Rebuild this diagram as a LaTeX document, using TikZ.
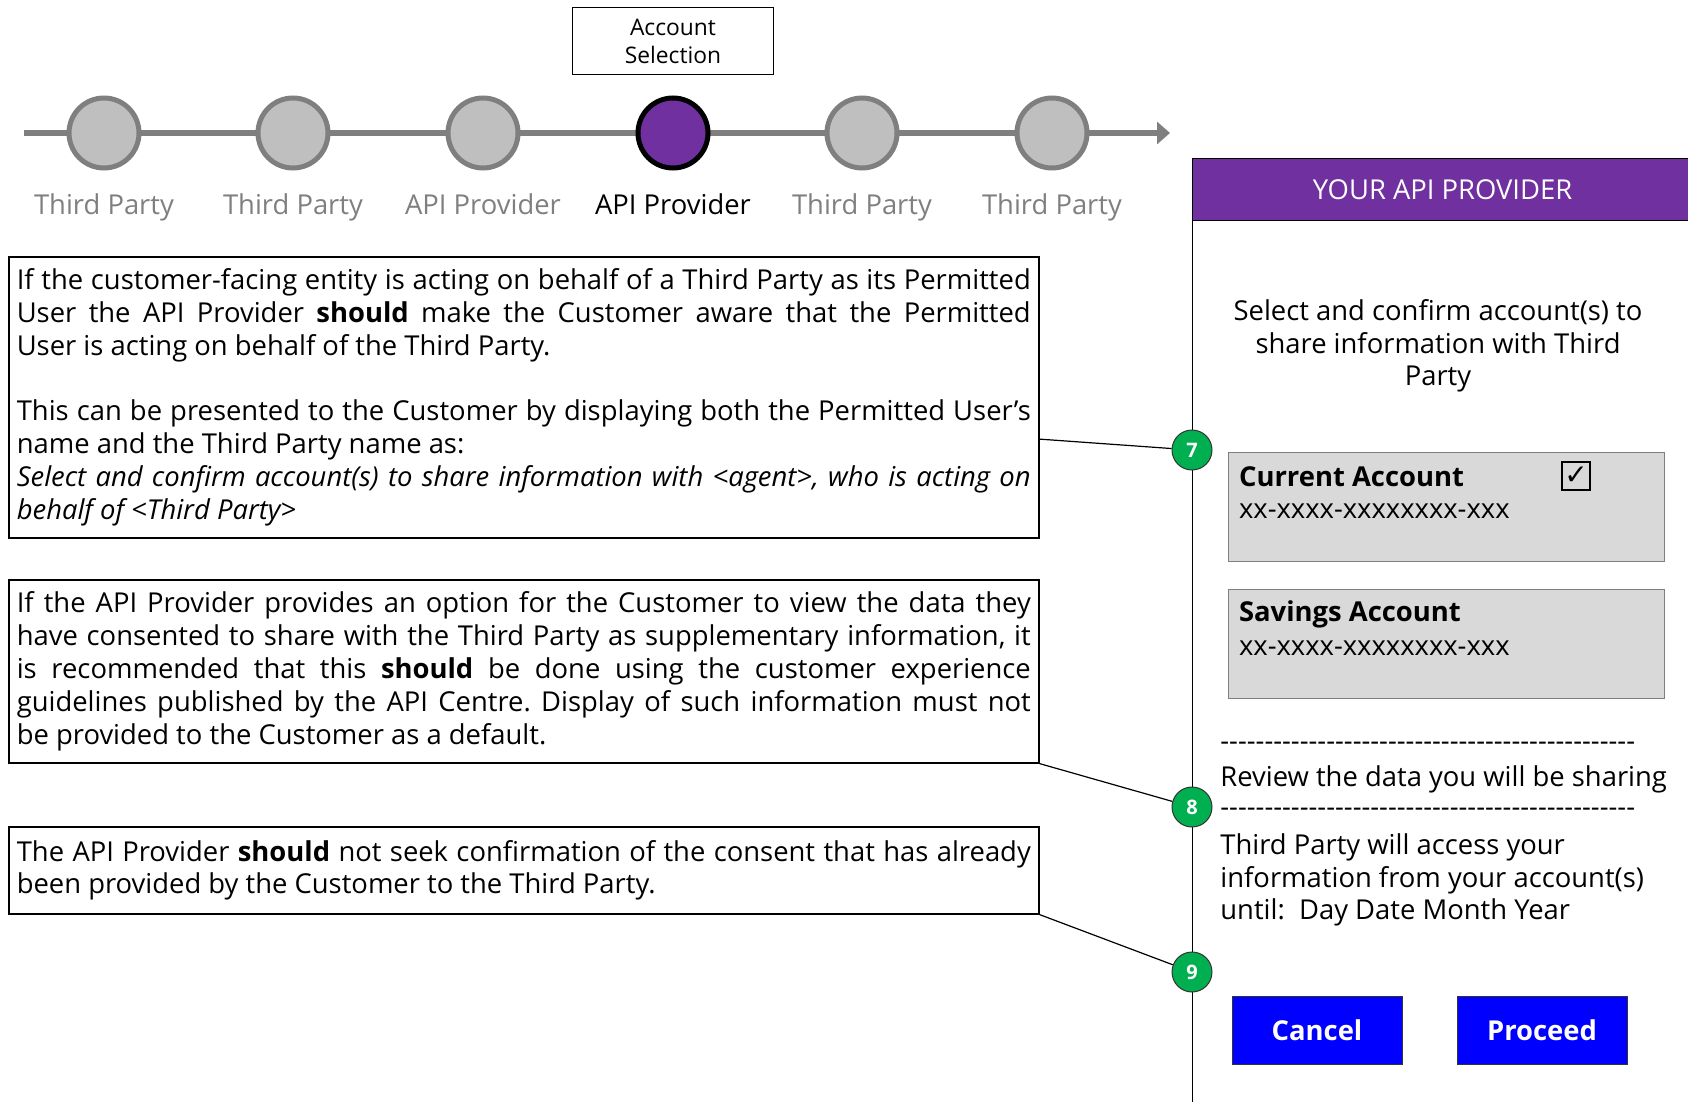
\documentclass[tikz,border=0pt]{standalone}
\usepackage{fontspec}
\setmainfont{Open Sans}
\newfontfamily\symfont{DejaVu Sans}
\usepackage{xcolor}
\usepackage{tikz}
\usetikzlibrary{arrows.meta,positioning,calc}

\definecolor{stepGray}{HTML}{7F7F7F}
\definecolor{stepFill}{HTML}{BFBFBF}
\definecolor{provPurple}{HTML}{7030A0}
\definecolor{pinGreen}{HTML}{00B050}
\definecolor{accFill}{HTML}{D9D9D9}
\definecolor{btnBlue}{HTML}{0000FF}

\newcommand{\bodyfont}{\fontsize{13.7}{16.4}\selectfont}
\newcommand{\dashrow}{\foreach \k in {1,...,47}{-\kern0pt}}
\hyphenpenalty=10000
\exhyphenpenalty=10000
\frenchspacing

\begin{document}
\begin{tikzpicture}[
  x=0.5pt, y=-0.5pt,
  font=\bodyfont,
  % journey line
  jLine/.style={draw=stepGray, line width=3pt,
                -{Triangle[length=6.5pt,width=11pt]}},
  % journey steps
  stepOff/.style={circle, draw=stepGray, fill=stepFill, line width=2.5pt,
                  minimum size=35pt, inner sep=0pt},
  stepOn/.style={stepOff, draw=black, fill=provPurple},
  stepLbl/.style={text=stepGray, anchor=base},
  stepLblOn/.style={text=black, anchor=base},
  % callout above the active step
  stageBox/.style={draw=black, line width=0.8pt,
                   minimum width=100.5pt, minimum height=33.5pt,
                   align=center, inner sep=2pt,
                   font=\fontsize{11.4}{14}\selectfont},
  % guideline notes
  noteBox/.style={draw=black, line width=0.8pt, anchor=north west,
                  text width=507pt, inner xsep=4pt, inner ysep=0pt,
                  align=justify},
  pinLine/.style={draw=black, line width=0.6pt},
  pinNum/.style={circle, draw=black!80, fill=pinGreen, text=white,
                 minimum size=20pt, inner sep=0pt, line width=0.5pt,
                 font=\fontsize{10}{10}\selectfont\bfseries},
  % provider screen
  scrHead/.style={draw=black, fill=provPurple, text=white, anchor=north west,
                  minimum width=250pt, minimum height=31pt, line width=0.6pt},
  scrEdge/.style={draw=black, line width=0.5pt},
  accBox/.style={draw=stepGray, fill=accFill, anchor=north west,
                 minimum width=218pt, minimum height=54.5pt, line width=0.6pt},
  accName/.style={anchor=west, font=\bodyfont\bfseries},
  accNo/.style={anchor=west},
  chkBox/.style={draw=black, line width=0.8pt, minimum size=14pt, inner sep=0pt,
                 font=\symfont\fontsize{14}{14}\selectfont},
  scrText/.style={anchor=west, align=left, inner sep=0pt},
  btn/.style={draw=black!80, fill=btnBlue, text=white, line width=0.5pt,
              minimum width=85pt, minimum height=34pt,
              font=\bodyfont\bfseries},
]
\useasboundingbox (0,0) rectangle (1688,1102);

% ── Step x positions ─────────────────────────────────────────────────────
\def\yJ{133}
\def\yL{214}
\def\xSa{104}
\def\xSb{293}
\def\xSc{483}
\def\xSd{673}
\def\xSe{862}
\def\xSf{1052}

% ── Journey line and steps ───────────────────────────────────────────────
\coordinate (j-start) at (24,\yJ);
\coordinate (j-end)   at (1170,\yJ);
\draw[jLine] (j-start) -- (j-end);

\node[stepOff] (s1) at (\xSa,\yJ) {};
\node[stepOff] (s2) at (\xSb,\yJ) {};
\node[stepOff] (s3) at (\xSc,\yJ) {};
\node[stepOn]  (s4) at (\xSd,\yJ) {};
\node[stepOff] (s5) at (\xSe,\yJ) {};
\node[stepOff] (s6) at (\xSf,\yJ) {};

\node[stepLbl]   (l1) at (\xSa,\yL) {Third Party};
\node[stepLbl]   (l2) at (\xSb,\yL) {Third Party};
\node[stepLbl]   (l3) at (\xSc,\yL) {API Provider};
\node[stepLblOn] (l4) at (\xSd,\yL) {API Provider};
\node[stepLbl]   (l5) at (\xSe,\yL) {Third Party};
\node[stepLbl]   (l6) at (\xSf,\yL) {Third Party};

\node[stageBox] (stage) at (\xSd,41) {Account\\Selection};

% ━━━━━━━━━━━━━━━━━━━━━━━━━━━━━━━━━━━━━━━━━━━━━━━━━━━━━━━━━━━━━━━━━━━━━━━
% Guideline notes
% ━━━━━━━━━━━━━━━━━━━━━━━━━━━━━━━━━━━━━━━━━━━━━━━━━━━━━━━━━━━━━━━━━━━━━━━
\node[noteBox, minimum height=140.5pt] (note1) at (8,256)
  {If the customer-facing entity is acting on behalf of a Third Party as its
   Permitted\linebreak User the API Provider \textbf{should} make the Customer
   aware that the Permitted\linebreak User is acting on behalf of the Third
   Party.\\[16.4pt]
   This can be presented to the Customer by displaying both the Permitted
   User’s\linebreak name and the Third Party name as:\\
   \textit{Select and confirm account(s) to share information with <agent>,
   who is acting on\linebreak behalf of <Third Party>}};

\node[noteBox, minimum height=91.5pt] (note2) at (8,579)
  {If the API Provider provides an option for the Customer to view the data
   they\linebreak have consented to share with the Third Party as supplementary
   information, it\linebreak is recommended that this \textbf{should} be done
   using the customer experience\linebreak guidelines published by the API
   Centre. Display of such information must not\linebreak be provided to the
   Customer as a default.};

\node[noteBox, minimum height=43.5pt] (note3) at (8,826)
  {The API Provider \textbf{should} not seek confirmation of the consent that
   has already\linebreak been provided by the Customer to the Third Party.};

% ━━━━━━━━━━━━━━━━━━━━━━━━━━━━━━━━━━━━━━━━━━━━━━━━━━━━━━━━━━━━━━━━━━━━━━━
% Provider screen
% ━━━━━━━━━━━━━━━━━━━━━━━━━━━━━━━━━━━━━━━━━━━━━━━━━━━━━━━━━━━━━━━━━━━━━━━
\node[scrHead] (head) at (1192,158) {YOUR API PROVIDER};
\coordinate (scr-bottom) at (1192,1110);
\draw[scrEdge] (head.south west) -- (scr-bottom);

\node[align=center] (prompt) at (1438,346)
  {Select and confirm account(s) to\\share information with Third\\Party};

% accounts
\node[accBox] (acc1) at (1228,452) {};
\node[accName] (acc1-name) at (1232,477) {Current Account};
\node[accNo]   (acc1-no)   at (1232,511) {xx-xxxx-xxxxxxxx-xxx};
\node[chkBox]  (acc1-chk)  at (1576,476) {✓};

\node[accBox] (acc2) at (1228,589) {};
\node[accName] (acc2-name) at (1232,614) {Savings Account};
\node[accNo]   (acc2-no)   at (1232,648) {xx-xxxx-xxxxxxxx-xxx};

% review and duration
\node[scrText] (rule1)  at (1220,746) {\dashrow};
\node[scrText] (review) at (1220,779) {Review the data you will be sharing};
\node[scrText] (rule2)  at (1220,812) {\dashrow};
\node[scrText] (until)  at (1220,880)
  {Third Party will access your\\information from your account(s)\\until:\ \ Day Date Month Year};

% buttons
\node[btn] (cancel)  at (1317,1030) {Cancel};
\node[btn] (proceed) at (1542,1030) {Proceed};

% ── Callout pins ─────────────────────────────────────────────────────────
\node[pinNum] (p7) at (1192,450) {7};
\node[pinNum] (p8) at (1192,807) {8};
\node[pinNum] (p9) at (1192,972) {9};

\draw[pinLine] ($(note1.north east)!0.648!(note1.south east)$) -- (p7);
\draw[pinLine] (note2.south east) -- (p8);
\draw[pinLine] (note3.south east) -- (p9);

\end{tikzpicture}
\end{document}
